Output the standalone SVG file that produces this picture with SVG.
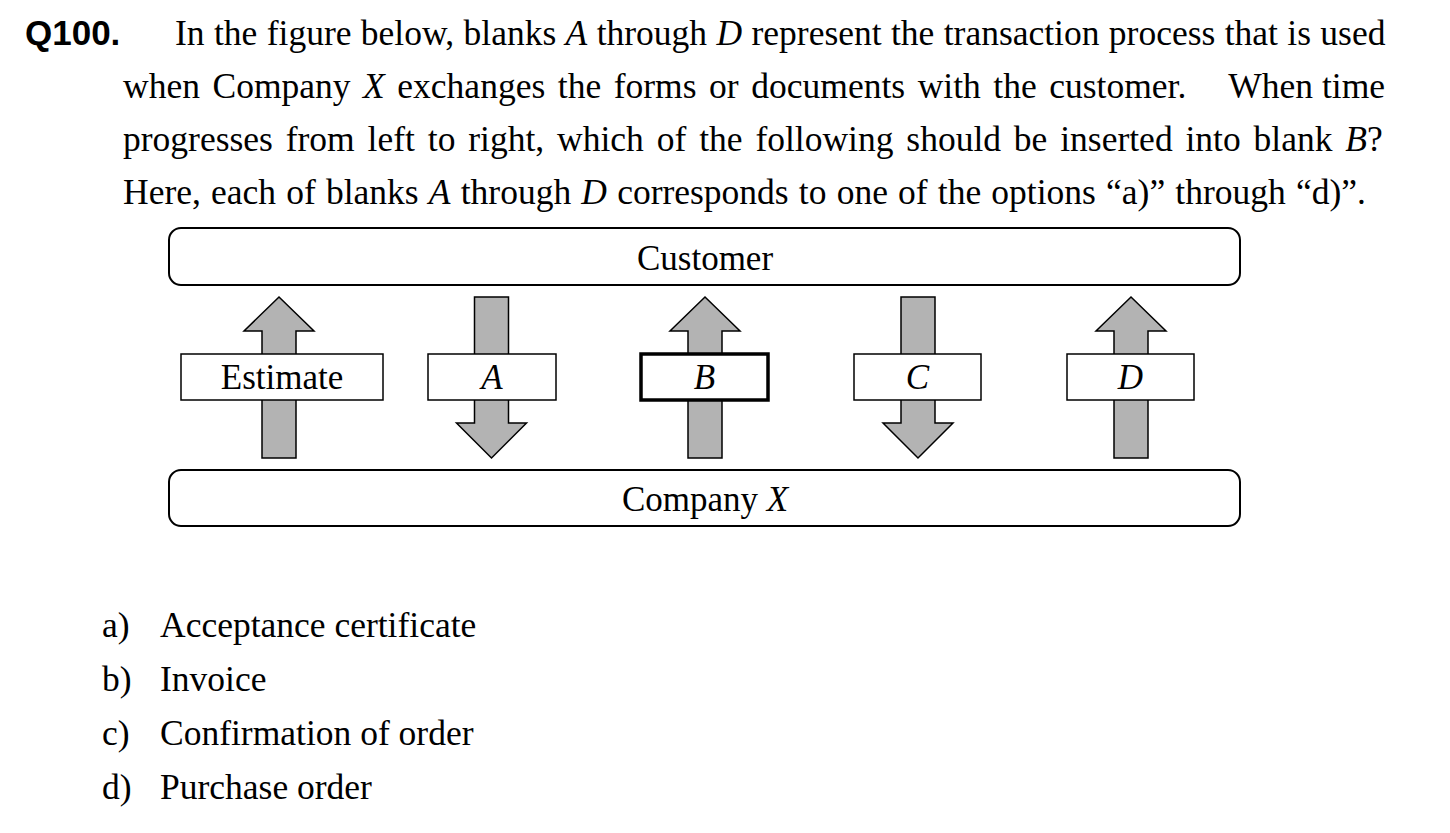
<svg xmlns="http://www.w3.org/2000/svg" width="1450" height="833" viewBox="0 0 1450 833">
<style>
.t{font-family:"Liberation Serif","Times New Roman",serif;font-size:35.5px;fill:#000}
.f{font-family:"Liberation Serif","Times New Roman",serif;font-size:35px;fill:#000}
.i{font-style:italic}
.q{font-family:"Liberation Sans",Arial,sans-serif;font-weight:bold;font-size:35px;fill:#000}
.lane{fill:#fff;stroke:#000;stroke-width:2}
.box{fill:#fff;stroke:#000;stroke-width:1.5}
.boxb{fill:#fff;stroke:#000;stroke-width:3.5}
.arr{fill:#b3b3b3;stroke:#000;stroke-width:1.5;stroke-linejoin:miter}
</style>
<defs>
<path id="up" d="M0,297 L35,331 L17,331 L17,458 L-17,458 L-17,331 L-35,331 Z"/>
<path id="down" d="M-17,297 L17,297 L17,423 L35,423 L0,458 L-35,423 L-17,423 Z"/>
</defs>
<rect width="1450" height="833" fill="#fff"/>
<g id="question">
<text class="q" x="25" y="45">Q100.</text>
<text class="t" x="175" y="45" word-spacing="0.5">In the figure below, blanks <tspan class="i">A</tspan> through <tspan class="i">D</tspan> represent the transaction process that is used</text>
<text class="t" x="123" y="98" word-spacing="3.7">when Company <tspan class="i">X</tspan> exchanges the forms or documents with the customer.</text>
<text class="t" x="1385" y="98" text-anchor="end">When time</text>
<text class="t" x="123" y="151" word-spacing="4">progresses from left to right, which of the following should be inserted into blank <tspan class="i">B</tspan>?</text>
<text class="t" x="123" y="204" word-spacing="1.3">Here, each of blanks <tspan class="i">A</tspan> through <tspan class="i">D</tspan> corresponds to one of the options “a)” through “d)”.</text>
</g>
<g id="customer">
<rect class="lane" x="169" y="228" width="1071" height="57" rx="12"/>
<text class="f" x="705" y="270" text-anchor="middle">Customer</text>
</g>
<g id="companyX">
<rect class="lane" x="169" y="470" width="1071" height="56" rx="12"/>
<text class="f" x="705" y="511" text-anchor="middle">Company <tspan class="i">X</tspan></text>
</g>
<g id="connectors">
<use href="#up" class="arr" transform="translate(279,0)"/>
<use href="#down" class="arr" transform="translate(491.5,0)"/>
<use href="#up" class="arr" transform="translate(705,0)"/>
<use href="#down" class="arr" transform="translate(918,0)"/>
<use href="#up" class="arr" transform="translate(1131,0)"/>
</g>
<g id="estimate">
<rect class="box" x="181" y="354" width="202" height="46"/>
<text class="f" x="282" y="389" text-anchor="middle">Estimate</text>
</g>
<g id="blankA">
<rect class="box" x="428" y="354" width="128" height="46"/>
<text class="f i" x="492" y="389" text-anchor="middle">A</text>
</g>
<g id="blankB">
<rect class="boxb" x="641" y="354" width="127" height="46"/>
<text class="f i" x="704.5" y="389" text-anchor="middle">B</text>
</g>
<g id="blankC">
<rect class="box" x="854" y="354" width="127" height="46"/>
<text class="f i" x="917.5" y="389" text-anchor="middle">C</text>
</g>
<g id="blankD">
<rect class="box" x="1067" y="354" width="127" height="46"/>
<text class="f i" x="1130.5" y="389" text-anchor="middle">D</text>
</g>
<g id="options">
<text class="t" x="102" y="637">a)</text><text class="t" x="160" y="637">Acceptance certificate</text>
<text class="t" x="102" y="691">b)</text><text class="t" x="160" y="691">Invoice</text>
<text class="t" x="102" y="745">c)</text><text class="t" x="160" y="745">Confirmation of order</text>
<text class="t" x="102" y="799">d)</text><text class="t" x="160" y="799">Purchase order</text>
</g>
</svg>
